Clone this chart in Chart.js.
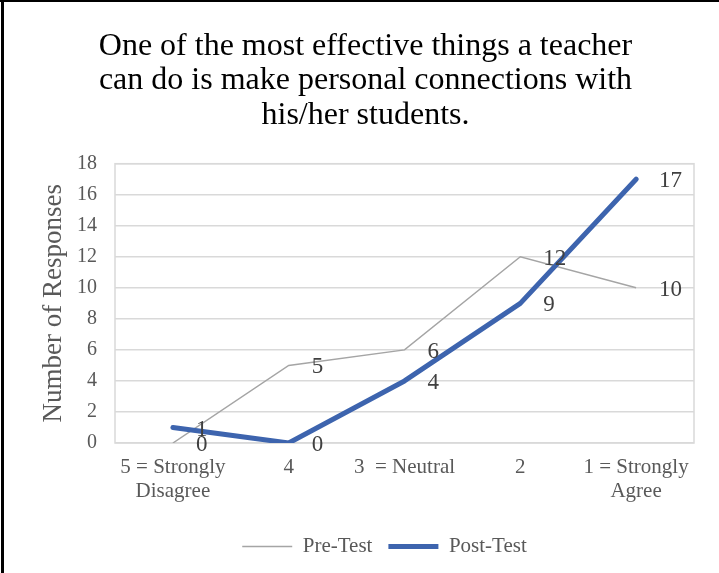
<!DOCTYPE html>
<html>
<head>
<meta charset="utf-8">
<script src="https://cdn.jsdelivr.net/npm/chart.js@4.4.1/dist/chart.umd.min.js"></script>
<style>
  html, body { margin: 0; padding: 0; background: #fff; }
  #wrap { width: 719px; height: 573px; }
</style>
</head>
<body>
<div id="wrap"><canvas id="chart" width="719" height="573"></canvas></div>
<script>
// chart data
const titleLines = ['One of the most effective things a teacher', 'can do is make personal connections with', 'his/her students.'];
const categories = [['5 = Strongly', 'Disagree'], '4', '3  = Neutral', '2', ['1 = Strongly', 'Agree']];
const preTest = [0, 5, 6, 12, 10];
const postTest = [1, 0, 4, 9, 17];
const yTicks = [0, 2, 4, 6, 8, 10, 12, 14, 16, 18];

const SERIF = "'Liberation Serif', 'Times New Roman', serif";

// white page, black frame on top/left like the cropped original
const frame = {
    id: 'frame',
    beforeDraw(chart) {
        const c = chart.ctx;
        c.save();
        c.fillStyle = '#fff';
        c.fillRect(0, 0, chart.width, chart.height);
        c.restore();
    },
    afterDraw(chart) {
        const c = chart.ctx;
        c.save();
        c.fillStyle = '#000';
        c.fillRect(0, 0, chart.width, 2);
        c.fillRect(1, 0, 3, chart.height);
        c.restore();
    }
};

// light grey box round the plot area
const plotBox = {
    id: 'plotBox',
    beforeDatasetsDraw(chart) {
        const a = chart.chartArea;
        const c = chart.ctx;
        c.save();
        c.strokeStyle = '#d9d9d9';
        c.lineWidth = 1.5;
        c.strokeRect(a.left, a.top, a.right - a.left, a.bottom - a.top);
        c.restore();
    }
};

// nudge title and legend sideways (Excel centres them differently)
const shiftBoxes = {
    id: 'shiftBoxes',
    afterLayout(chart) {
        const t = chart.titleBlock;
        if (t) { t.left += 10; t.right += 10; }
        const l = chart.legend;
        if (l) { l.left += 29; l.right += 29; }
    }
};

// value labels to the right of every point
const valueLabels = {
    id: 'valueLabels',
    afterDatasetsDraw(chart) {
        const c = chart.ctx;
        c.save();
        c.font = '23px ' + SERIF;
        c.fillStyle = '#404040';
        c.textAlign = 'left';
        c.textBaseline = 'middle';
        chart.data.datasets.forEach((ds, i) => {
            chart.getDatasetMeta(i).data.forEach((pt, j) => {
                c.fillText(String(ds.data[j]), pt.x + 23, pt.y + 2);
            });
        });
        c.restore();
    }
};

new Chart(document.getElementById('chart'), {
    type: 'line',
    data: {
        labels: categories,
        datasets: [
            {
                label: 'Pre-Test',
                data: preTest,
                borderColor: '#a5a5a5',
                backgroundColor: '#a5a5a5',
                borderWidth: 1.5,
                pointRadius: 0,
                tension: 0,
                order: 1
            },
            {
                label: 'Post-Test',
                data: postTest,
                borderColor: '#3d64ae',
                backgroundColor: '#3d64ae',
                borderWidth: 5,
                borderCapStyle: 'round',
                borderJoinStyle: 'round',
                pointRadius: 0,
                tension: 0,
                order: 0
            }
        ]
    },
    options: {
        responsive: false,
        animation: false,
        layout: { padding: { left: 17, right: 25, top: 0, bottom: 6 } },
        plugins: {
            title: {
                display: true,
                text: titleLines,
                color: '#000',
                font: { family: SERIF, size: 32, weight: 'normal', lineHeight: 1.08 },
                padding: { top: 29, bottom: 31 }
            },
            legend: {
                position: 'bottom',
                labels: {
                    usePointStyle: true,
                    pointStyle: 'line',
                    pointStyleWidth: 50,
                    boxHeight: 21,
                    color: '#595959',
                    font: { family: SERIF, size: 21 },
                    padding: 16,
                    sort: (a, b) => a.datasetIndex - b.datasetIndex
                }
            },
            tooltip: { enabled: false }
        },
        scales: {
            x: {
                offset: true,
                grid: { display: false },
                border: { display: false },
                ticks: {
                    color: '#595959',
                    font: { family: SERIF, size: 21, lineHeight: 1.15 },
                    padding: 4,
                    maxRotation: 0,
                    autoSkip: false
                },
                afterFit(scale) { scale.height = 77; }
            },
            y: {
                min: yTicks[0],
                max: yTicks[yTicks.length - 1],
                afterBuildTicks(scale) { scale.ticks = yTicks.map(v => ({ value: v })); },
                grid: { color: '#d9d9d9', lineWidth: 1.5, drawTicks: false },
                border: { display: false },
                ticks: {
                    color: '#595959',
                    font: { family: SERIF, size: 20 },
                    padding: 18
                },
                title: {
                    display: true,
                    text: 'Number of Responses',
                    color: '#595959',
                    font: { family: SERIF, size: 27 },
                    padding: { top: 21, bottom: 0 }
                },
                afterFit(scale) { scale.width = 98; }
            }
        }
    },
    plugins: [frame, plotBox, shiftBoxes, valueLabels]
});
</script>
</body>
</html>
